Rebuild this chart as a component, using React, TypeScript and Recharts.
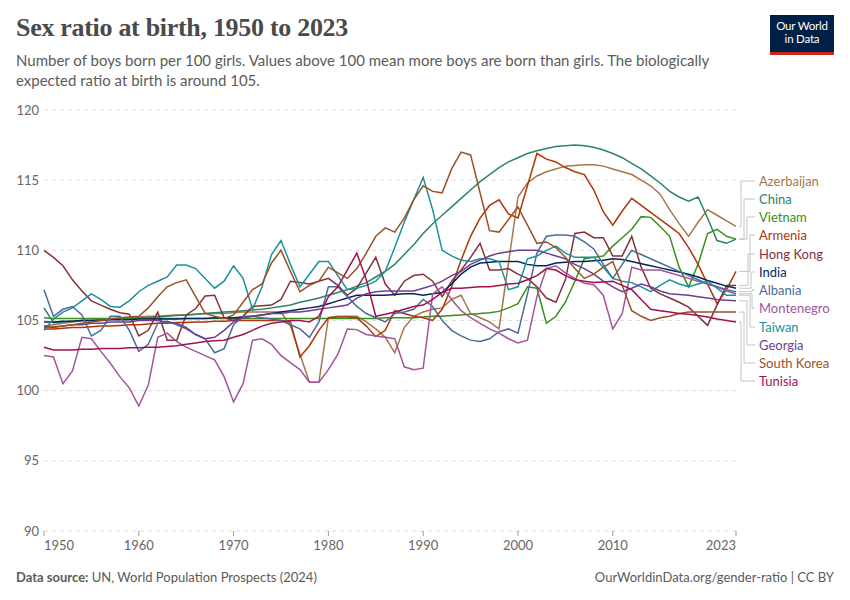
import React from 'react';
import { LineChart, Line, XAxis, YAxis, CartesianGrid } from 'recharts';

const YEARS: number[] = Array.from({ length: 74 }, (_, i) => 1950 + i);
const X_TICKS = [1950, 1960, 1970, 1980, 1990, 2000, 2010, 2023];
const Y_TICKS = [90, 95, 100, 105, 110, 115, 120];

const azerbaijan = [
  104.6, 104.7, 104.8, 104.9, 105.0, 105.0, 105.05, 105.1, 105.15, 105.2,
  105.25, 105.3, 105.3, 105.35, 105.4, 105.4, 105.45, 105.5, 105.5, 105.5,
  105.55, 105.6, 105.6, 105.6, 105.6, 105.6, 104.6, 102.6, 100.6, 100.6,
  105.2, 105.3, 105.3, 105.3, 104.9, 104.4, 103.8, 102.7, 104.5, 105.3,
  105.6, 105.8, 105.9, 106.5, 106.8, 105.5, 105.2, 104.9, 104.4, 109.1,
  113.8, 114.8, 115.3, 115.6, 115.8, 116.0, 116.05, 116.1, 116.1, 116.0,
  115.8, 115.6, 115.4, 115.0, 114.6, 114.0, 112.9, 111.9, 111.0, 112.0,
  112.9, 112.5, 112.1, 111.7,
];
const china = [
  105.9, 104.85, 104.9, 104.95, 105.0, 105.0, 105.05, 105.1, 105.1, 105.15,
  105.2, 105.2, 105.25, 105.3, 105.35, 105.4, 105.45, 105.5, 105.55, 105.6,
  105.65, 105.7, 105.75, 105.8, 105.9, 106.0, 106.1, 106.3, 106.45, 106.6,
  106.8, 107.0, 107.2, 107.45, 107.7, 108.1, 108.5, 109.0, 109.7, 110.4,
  111.2, 111.9, 112.5, 113.1, 113.7, 114.3, 114.9, 115.4, 115.9, 116.3,
  116.6, 116.9, 117.1, 117.25, 117.4, 117.45, 117.5, 117.45, 117.35, 117.15,
  116.9, 116.6, 116.2, 115.8, 115.3, 114.8, 114.2, 113.8, 113.5, 113.8,
  112.3, 110.7, 110.5, 110.8,
];
const vietnam = [
  105.2, 105.15, 105.15, 105.15, 105.15, 105.15, 105.15, 105.15, 105.15, 105.15,
  105.15, 105.15, 105.15, 105.15, 105.15, 105.15, 105.15, 105.15, 105.15, 105.15,
  105.15, 105.15, 105.15, 105.15, 105.15, 105.15, 105.15, 105.15, 105.15, 105.15,
  105.15, 105.15, 105.15, 105.15, 105.15, 105.15, 105.2, 105.2, 105.2, 105.2,
  105.25, 105.3, 105.3, 105.35, 105.4, 105.45, 105.5, 105.55, 105.65, 105.9,
  106.2, 107.4, 107.3, 104.8, 105.3, 106.3, 107.8, 109.4, 109.5, 109.6,
  110.3, 110.9, 111.5, 112.4, 112.35, 111.7, 111.0, 108.8, 107.4, 109.0,
  111.2, 111.5, 111.0, 110.8,
];
const armenia = [
  104.4, 104.4, 104.45, 104.5, 104.5, 104.55, 104.6, 104.6, 104.65, 104.7,
  104.7, 104.75, 104.8, 104.8, 104.85, 104.85, 104.9, 104.9, 104.95, 104.95,
  105.0, 105.0, 105.0, 105.0, 105.0, 105.0, 104.9, 102.4, 103.2, 104.3,
  105.2, 105.25, 105.25, 105.2, 104.6, 103.85, 104.3, 105.7, 105.5, 105.3,
  105.2, 105.0, 105.8, 107.4, 109.3, 111.0, 112.3, 113.2, 113.6, 112.6,
  112.3, 114.6, 116.9, 116.5, 116.3, 115.9, 115.6, 115.4, 114.3, 112.75,
  111.8, 112.8, 113.7, 113.2, 112.7, 112.2, 111.7, 111.2, 110.2, 109.0,
  107.6, 106.2, 107.2, 108.5,
];
const hongKong = [
  110.0, 109.5, 108.9, 107.9, 107.1, 106.4, 106.1, 105.8, 105.55, 105.45,
  103.9, 104.3, 105.6, 103.6, 103.6, 105.4, 105.85, 106.75, 106.8, 105.2,
  105.0, 105.3, 106.0, 106.05, 106.1, 106.5, 107.8, 107.7, 107.6, 107.8,
  108.0, 107.5, 106.8, 107.3, 108.4, 109.5, 107.6, 106.8, 107.8, 108.2,
  108.3, 107.8, 106.7, 107.8, 108.6, 109.5, 110.5, 108.6, 108.6, 108.7,
  108.3, 108.0, 107.4, 106.6, 106.3, 107.9, 111.2, 111.3, 110.9, 110.9,
  109.6, 109.6, 111.0, 108.8, 107.3, 106.9, 106.6, 106.3, 105.95, 105.3,
  104.65, 106.1, 107.5, 107.5,
];
const india = [
  104.9, 104.9, 104.95, 104.95, 105.0, 105.0, 105.0, 105.05, 105.05, 105.05,
  105.1, 105.1, 105.1, 105.1, 105.1, 105.15, 105.15, 105.15, 105.2, 105.2,
  105.2, 105.25, 105.3, 105.4, 105.5, 105.6, 105.7, 105.8, 105.9, 106.0,
  106.2, 106.4, 106.6, 106.8, 106.8, 106.8, 106.8, 106.85, 106.9, 106.9,
  106.8, 106.9, 107.0, 107.6, 108.3, 108.8, 109.1, 109.15, 109.2, 109.2,
  109.2, 109.0, 108.9, 108.9, 109.1, 109.15, 109.2, 109.2, 109.25, 109.3,
  109.4, 109.35, 109.2, 109.05, 108.9, 108.75, 108.6, 108.45, 108.3, 108.1,
  107.85, 107.65, 107.45, 107.3,
];
const albania = [
  107.2, 105.3, 105.8, 106.0, 105.4, 103.9, 104.3, 105.3, 105.3, 104.3,
  102.8, 103.3, 104.8, 104.95, 104.7, 104.4, 104.0, 103.7, 102.7, 103.0,
  104.7, 105.3, 105.3, 105.2, 105.1, 105.0, 104.7, 104.4, 103.8, 104.9,
  107.4, 107.4, 106.7, 106.0, 105.5, 105.2, 104.9, 105.5, 105.6, 105.8,
  106.5, 106.0, 105.0, 104.3, 103.9, 103.6, 103.5, 103.7, 104.2, 104.4,
  104.1, 106.9, 109.8, 111.0, 111.1, 111.1, 111.0, 110.6, 110.1, 109.0,
  108.0, 109.0, 110.0, 109.7, 109.4, 109.1, 108.8, 108.5, 108.2, 107.9,
  107.6, 107.4, 107.2, 107.05,
];
const montenegro = [
  102.5, 102.4, 100.5, 101.4, 103.8, 103.7, 102.8, 101.95, 101.0, 100.2,
  98.9, 100.4, 103.8, 104.1, 103.5, 103.1, 102.8, 102.5, 102.2, 101.0,
  99.2, 100.5, 103.6, 103.7, 103.3, 102.5, 102.0, 101.5, 100.6, 100.6,
  101.5, 102.6, 104.4, 104.35, 104.0, 103.9, 103.8, 103.7, 101.7, 101.5,
  101.6, 106.9, 107.4, 106.5, 105.7, 105.2, 104.8, 104.4, 104.1, 103.7,
  103.4, 103.6, 106.7, 108.7, 108.9, 108.4, 108.0, 107.65, 107.55, 106.8,
  104.4, 105.5, 108.8, 108.6, 108.6, 108.6, 108.4, 108.2, 108.0, 107.8,
  107.6, 107.4, 107.1, 106.9,
];
const taiwan = [
  104.3, 105.1, 105.6, 105.9, 106.4, 106.9, 106.5, 106.0, 105.95, 106.4,
  107.05, 107.5, 107.8, 108.1, 108.95, 108.95, 108.7, 108.0, 107.3, 107.8,
  108.9, 108.0, 105.8, 107.4, 109.7, 110.7, 109.0, 107.4, 108.3, 109.2,
  109.2, 108.2, 107.2, 107.3, 107.5, 107.8, 108.5, 110.2, 112.0, 113.6,
  115.2, 112.9, 110.0, 109.6, 109.3, 109.2, 109.4, 109.4, 109.2, 107.2,
  107.4, 109.4, 109.6, 110.0, 110.3, 109.8, 109.5, 109.5, 109.5, 108.8,
  108.0, 107.8, 107.7, 107.4, 107.05, 107.5, 107.9, 107.6, 107.4, 107.6,
  107.8, 107.3, 106.8, 106.8,
];
const georgia = [
  104.6, 104.5, 104.6, 104.7, 104.7, 104.8, 104.8, 104.9, 104.9, 104.9,
  105.0, 105.0, 105.0, 104.9, 104.8, 104.5, 104.0, 103.7, 103.8, 104.3,
  104.9, 105.2, 105.3, 105.4, 105.5, 105.5, 105.6, 105.6, 105.7, 105.8,
  105.9, 106.0, 106.1, 106.6, 106.9, 107.05, 107.1, 107.1, 107.1, 107.1,
  107.3, 107.5, 107.8, 108.2, 108.5, 109.0, 109.3, 109.6, 109.8, 109.9,
  110.0, 110.0, 110.0, 109.8, 109.6, 109.4, 109.0, 108.7, 108.3, 107.8,
  107.4, 107.05, 107.3, 107.6, 107.4, 107.1, 106.9, 106.85, 106.8, 106.7,
  106.6, 106.5, 106.45, 106.4,
];
const southKorea = [
  104.5, 104.55, 104.6, 104.7, 104.8, 104.9, 105.0, 105.1, 105.2, 105.25,
  105.3, 105.9, 106.7, 107.4, 107.7, 107.9, 106.7, 105.5, 105.3, 105.15,
  105.4, 106.3, 107.2, 107.6, 109.1, 110.0, 108.5, 107.05, 107.5, 107.8,
  108.8, 108.4, 108.0, 108.7, 109.8, 111.0, 111.6, 111.3, 112.3, 113.6,
  114.6, 114.2, 114.1, 115.8, 117.0, 116.8, 114.1, 111.4, 111.3, 112.2,
  113.1, 111.8, 110.5, 110.6, 110.2, 109.5, 108.7, 108.0, 108.3, 108.8,
  109.2, 107.5, 105.7, 105.3, 105.0, 105.2, 105.3, 105.5, 105.6, 105.6,
  105.6, 105.6, 105.6, 105.6,
];
const tunisia = [
  103.1, 102.9, 102.9, 102.9, 102.95, 102.95, 103.0, 103.0, 103.0, 103.05,
  103.05, 103.1, 103.1, 103.15, 103.2, 103.3, 103.4, 103.5, 103.55, 103.6,
  103.8, 104.0, 104.3, 104.6, 104.8, 104.9, 105.0, 105.0, 104.9, 105.3,
  106.7, 107.4, 108.6, 109.8, 107.9, 105.3, 105.45, 105.6, 105.8, 106.0,
  106.1, 106.5, 107.0, 107.3, 107.3, 107.35, 107.4, 107.4, 107.5, 107.6,
  107.65, 107.9, 108.2, 108.7, 108.6, 108.2, 107.9, 107.8, 107.7, 107.75,
  107.8, 107.5, 107.2, 106.5, 105.8, 105.7, 105.6, 105.5, 105.45, 105.35,
  105.25, 105.1, 105.0, 104.9,
];

const SERIES = [
  { name: 'Azerbaijan', color: '#A5764A', values: azerbaijan, labelY: 181, elbowX: 741 },
  { name: 'China', color: '#2C8465', values: china, labelY: 199, elbowX: 744 },
  { name: 'Vietnam', color: '#3B8E1D', values: vietnam, labelY: 217, elbowX: 747 },
  { name: 'Armenia', color: '#B13507', values: armenia, labelY: 235, elbowX: 750 },
  { name: 'Hong Kong', color: '#883039', values: hongKong, labelY: 254, elbowX: 748 },
  { name: 'India', color: '#00295B', values: india, labelY: 272, elbowX: 751 },
  { name: 'Albania', color: '#4C6A9C', values: albania, labelY: 290, elbowX: 752 },
  { name: 'Montenegro', color: '#A2559C', values: montenegro, labelY: 308, elbowX: 752 },
  { name: 'Taiwan', color: '#18929E', values: taiwan, labelY: 327, elbowX: 750 },
  { name: 'Georgia', color: '#6D3E91', values: georgia, labelY: 345, elbowX: 747 },
  { name: 'South Korea', color: '#9A5129', values: southKorea, labelY: 363, elbowX: 744 },
  { name: 'Tunisia', color: '#A5104F', values: tunisia, labelY: 381, elbowX: 741 },
];

const DATA = YEARS.map((year, i) => {
  const row: Record<string, number> = { year };
  SERIES.forEach((s) => {
    row[s.name] = s.values[i];
  });
  return row;
});

const FONT = 'Lato, "Noto Sans", sans-serif';

function makeEndLabel(name: string, color: string, labelY: number, elbowX: number) {
  return (props: any) => {
    const { index } = props;
    if (index !== YEARS.length - 1) return null;
    const px = props.x ?? props.viewBox?.x;
    const py = props.y ?? props.viewBox?.y;
    if (px == null || py == null) return null;
    return (
      <g>
        <path
          d={`M${px + 3},${py}H${elbowX}V${labelY}H${755}`}
          stroke="#c4c4c4"
          strokeWidth={1}
          fill="none"
        />
        <text x={759} y={labelY} dy="0.35em" fill={color} fontSize={13} fontFamily={FONT}>
          {name}
        </text>
      </g>
    );
  };
}

const XTick = (props: any) => {
  const { x, y, payload } = props;
  const v = payload.value;
  const anchor = v === X_TICKS[0] ? 'start' : v === X_TICKS[X_TICKS.length - 1] ? 'end' : 'middle';
  return (
    <text x={x} y={y} dy="0.71em" textAnchor={anchor} fill="#666" fontSize={13} fontFamily={FONT}>
      {v}
    </text>
  );
};

export default function App() {
  return (
    <div
      style={{
        position: 'absolute',
        left: 0,
        top: 0,
        width: 850,
        height: 600,
        background: '#fff',
        fontFamily: FONT,
        overflow: 'hidden',
      }}
    >
      <div
        style={{
          position: 'absolute',
          left: 16,
          top: 13,
          fontFamily: '"Liberation Serif", "DejaVu Serif", serif',
          fontSize: 26,
          fontWeight: 'bold',
          color: '#4a4a4a',
          letterSpacing: -0.3,
          whiteSpace: 'nowrap',
        }}
      >
        Sex ratio at birth, 1950 to 2023
      </div>
      <div
        style={{
          position: 'absolute',
          left: 16,
          top: 51,
          width: 740,
          fontSize: 15,
          lineHeight: '19.5px',
          color: '#5b5b5b',
        }}
      >
        Number of boys born per 100 girls. Values above 100 mean more boys are born than girls. The biologically
        expected ratio at birth is around 105.
      </div>
      <div
        style={{
          position: 'absolute',
          left: 770,
          top: 15,
          width: 64,
          height: 33,
          background: '#002147',
          borderBottom: '3px solid #ce261e',
          color: '#fff',
          fontSize: 11.5,
          lineHeight: '13px',
          textAlign: 'center',
          paddingTop: 4,
          boxSizing: 'content-box',
          letterSpacing: -0.2,
        }}
      >
        Our World
        <br />
        in Data
      </div>

      <div style={{ position: 'absolute', left: 0, top: 0 }}>
        <LineChart
          width={850}
          height={600}
          data={DATA}
          margin={{ top: 110, right: 114, bottom: 0, left: 0 }}
        >
          <CartesianGrid vertical={false} stroke="#dcdcdc" strokeDasharray="4 4" />
          <XAxis
            dataKey="year"
            type="number"
            domain={[1950, 2023]}
            ticks={X_TICKS}
            height={69}
            axisLine={false}
            tickLine={{ stroke: '#999' }}
            tickSize={5}
            tickMargin={5}
            tick={<XTick />}
            interval={0}
          />
          <YAxis
            type="number"
            domain={[90, 120]}
            ticks={Y_TICKS}
            width={44}
            axisLine={false}
            tickLine={false}
            tickSize={0}
            tickMargin={5}
            tick={{ fill: '#666', fontSize: 13, fontFamily: FONT }}
            interval={0}
          />
          {SERIES.map((s) => (
            <Line
              key={s.name}
              dataKey={s.name}
              stroke={s.color}
              strokeWidth={1.5}
              dot={false}
              activeDot={false}
              isAnimationActive={false}
              label={makeEndLabel(s.name, s.color, s.labelY, s.elbowX)}
            />
          ))}
        </LineChart>
      </div>

      <div
        style={{
          position: 'absolute',
          left: 16,
          top: 569,
          fontSize: 13,
          color: '#5b5b5b',
          whiteSpace: 'nowrap',
        }}
      >
        <b>Data source:</b> UN, World Population Prospects (2024)
      </div>
      <div
        style={{
          position: 'absolute',
          right: 16,
          top: 569,
          fontSize: 13,
          color: '#5b5b5b',
          whiteSpace: 'nowrap',
        }}
      >
        OurWorldinData.org/gender-ratio | CC BY
      </div>
    </div>
  );
}
